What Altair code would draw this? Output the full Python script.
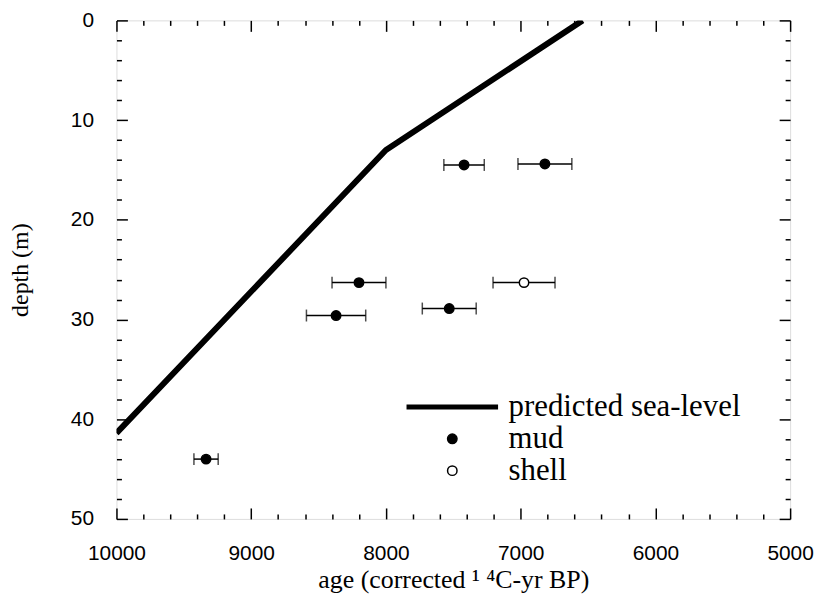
import altair as alt
import pandas as pd

# predicted sea-level curve
line_age = [10000, 8000, 6540]
line_depth = [41.4, 13.0, 0.0]

# dated samples
sample_age = [7420, 6820, 8200, 7530, 8370, 9335, 6975]
sample_depth = [14.5, 14.4, 26.3, 28.9, 29.6, 44.0, 26.3]
sample_err = [150, 200, 200, 200, 220, 90, 230]
sample_kind = ["mud", "mud", "mud", "mud", "mud", "mud", "shell"]

legend_kinds = ["predicted sea-level", "mud", "shell"]

x_major = [5000, 6000, 7000, 8000, 9000, 10000]
x_minor = [v for v in range(5000, 10001, 200) if v % 1000 != 0]
y_major = [0, 10, 20, 30, 40, 50]
y_minor = [v for v in range(0, 51, 2) if v % 10 != 0]

line_df = pd.DataFrame({"age": line_age, "depth": line_depth})
samp_df = pd.DataFrame({"age": sample_age, "depth": sample_depth,
                        "err": sample_err, "kind": sample_kind})

xs = alt.Scale(domain=[5000, 10000], reverse=True, nice=False, zero=False)
ys = alt.Scale(domain=[0, 50], reverse=True, nice=False, zero=False)

SANS = "Liberation Sans"
SERIF = "Liberation Serif"


def tick_axis(orient, values, size, labels=False, **kw):
    return alt.Axis(orient=orient, values=values, offset=-size, tickSize=size,
                    domain=False, grid=False, labels=labels, tickColor="black",
                    tickWidth=1.5, **kw)


x_main = tick_axis("bottom", x_major, 11, labels=True,
                   title="age (corrected \u00b9 \u2074C-yr BP)",
                   labelFont=SANS, labelFontSize=21, labelColor="black",
                   labelPadding=24, labelFlush=False, labelOverlap=False,
                   format="d", titleFont=SERIF, titleFontSize=26,
                   titleFontWeight="normal", titleColor="black", titlePadding=3)
y_main = tick_axis("left", y_major, 11, labels=True, title="depth (m)",
                   labelFont=SANS, labelFontSize=21, labelColor="black",
                   labelPadding=23, labelFlush=False, labelOverlap=False,
                   titleFont=SERIF, titleFontSize=24, titleFontWeight="normal",
                   titleColor="black", titlePadding=38)

base_line = alt.Chart(line_df).mark_line(color="black", strokeWidth=6, clip=True).encode(
    x=alt.X("age:Q", scale=xs, axis=x_main),
    y=alt.Y("depth:Q", scale=ys, axis=y_main),
)

samp = alt.Chart(samp_df).transform_calculate(
    lo="datum.age - datum.err", hi="datum.age + datum.err"
)

bars = samp.mark_rule(color="black", strokeWidth=1.5).encode(
    x=alt.X("lo:Q", scale=xs, axis=tick_axis("bottom", x_minor, 5, title=None)),
    x2="hi:Q",
    y=alt.Y("depth:Q", scale=ys, axis=tick_axis("left", y_minor, 5, title=None)),
)

caps = samp.transform_fold(["lo", "hi"], as_=["end", "xe"]).mark_tick(
    color="black", orient="vertical", size=12, thickness=1.5
).encode(
    x=alt.X("xe:Q", scale=xs, axis=tick_axis("top", x_major, 11, title=None)),
    y=alt.Y("depth:Q", scale=ys, axis=tick_axis("right", y_major, 11, title=None)),
)

leg = alt.Legend(orient="none", legendX=289, legendY=340, title=None,
                 labelFont=SERIF, labelFontSize=31, labelColor="black",
                 labelOffset=8, rowPadding=0, padding=0,
                 symbolStrokeColor="black", labelLimit=400)

points = samp.mark_point(filled=True, opacity=1).encode(
    x=alt.X("age:Q", scale=xs, axis=tick_axis("top", x_minor, 5, title=None)),
    y=alt.Y("depth:Q", scale=ys, axis=tick_axis("right", y_minor, 5, title=None)),
    shape=alt.Shape("kind:N", scale=alt.Scale(domain=legend_kinds,
                    range=["stroke", "circle", "circle"]), legend=leg),
    fill=alt.Fill("kind:N", scale=alt.Scale(domain=legend_kinds,
                  range=["black", "black", "white"]), legend=leg),
    stroke=alt.Stroke("kind:N", scale=alt.Scale(domain=legend_kinds,
                      range=["black", "black", "black"]), legend=leg),
    size=alt.Size("kind:N", scale=alt.Scale(type="ordinal", domain=legend_kinds,
                  range=[8464, 90, 90]), legend=leg),
    strokeWidth=alt.StrokeWidth("kind:N", scale=alt.Scale(type="ordinal",
                                domain=legend_kinds, range=[5, 1.5, 1.5]),
                                legend=leg),
)

chart = alt.layer(base_line, bars, caps, points).resolve_axis(
    x="independent", y="independent"
).properties(width=677, height=501, padding=0).configure_view(
    stroke="black", strokeWidth=2
).configure(background="white")

chart.save("out.html", embed_options={"renderer": "svg", "actions": False})
